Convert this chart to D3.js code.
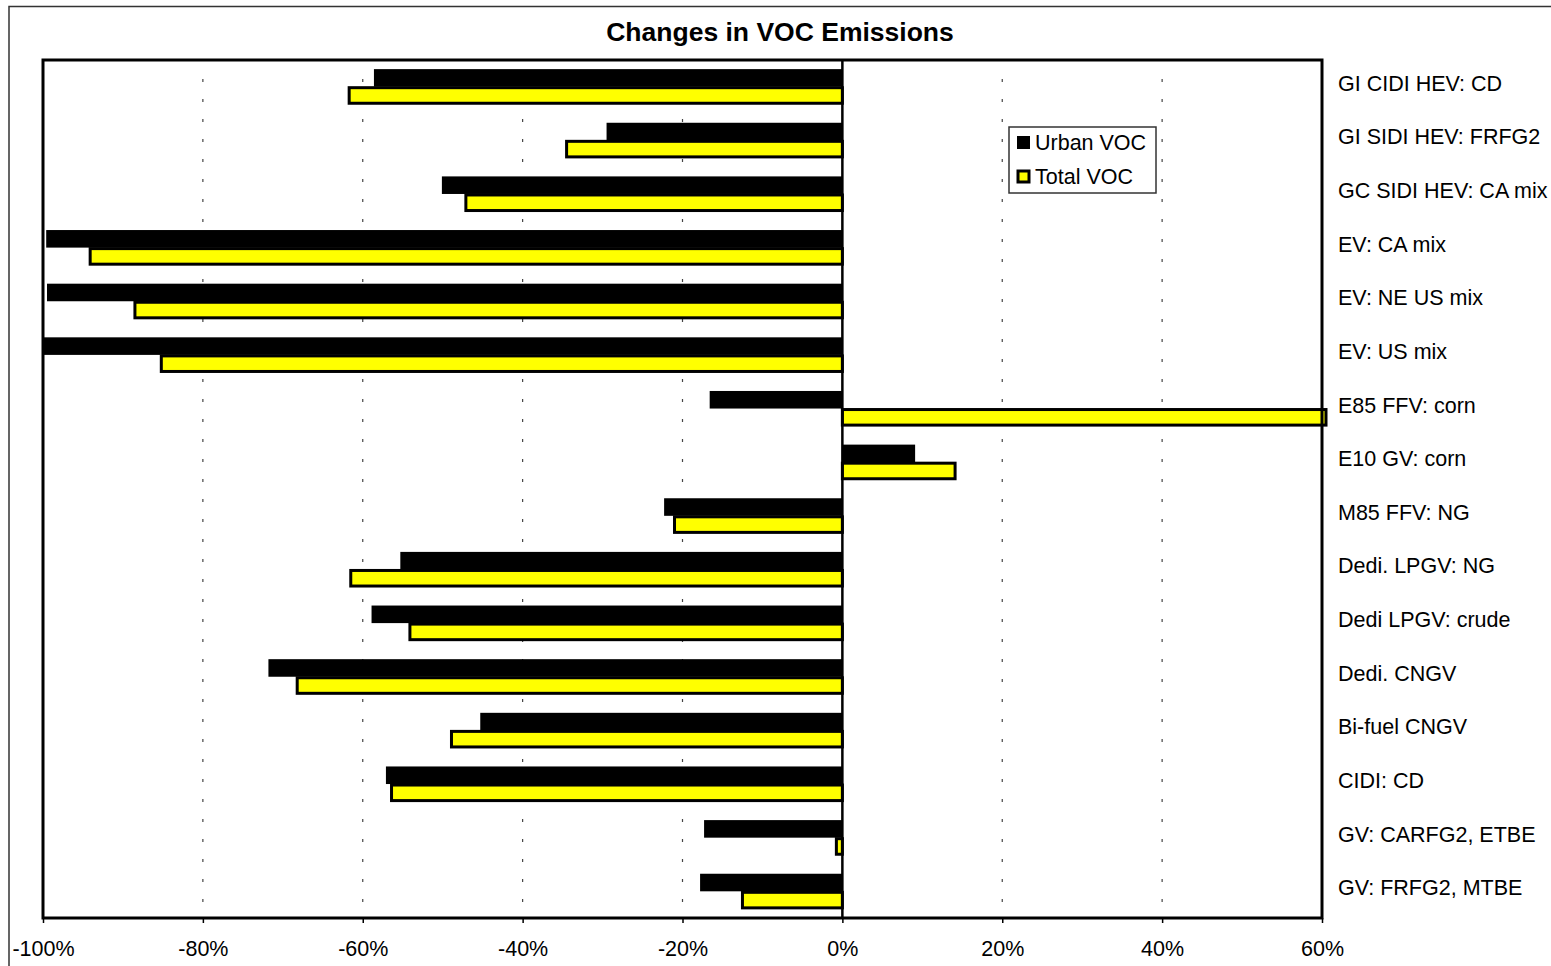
<!DOCTYPE html>
<html><head><meta charset="utf-8">
<script src="https://cdn.jsdelivr.net/npm/d3@7"></script>
<style>body{margin:0;background:#fff;} svg{display:block;font-family:"Liberation Sans",Arial,sans-serif;}</style>
</head><body>
<script>
const categories = ["GI CIDI HEV: CD","GI SIDI HEV: FRFG2","GC SIDI HEV: CA mix","EV: CA mix","EV: NE US mix","EV: US mix","E85 FFV: corn","E10 GV: corn","M85 FFV: NG","Dedi. LPGV: NG","Dedi LPGV: crude","Dedi. CNGV","Bi-fuel CNGV","CIDI: CD","GV: CARFG2, ETBE","GV: FRFG2, MTBE"];
const urbanVOC = [-58.6,-29.5,-50.1,-99.6,-99.5,-100,-16.6,9.1,-22.3,-55.3,-58.9,-71.8,-45.3,-57.1,-17.3,-17.8];
const totalVOC = [-61.7,-34.5,-47.1,-94.1,-88.5,-85.2,60.5,14.1,-21.0,-61.5,-54.1,-68.2,-48.9,-56.4,-0.75,-12.5];
const xTicks = [-100,-80,-60,-40,-20,0,20,40,60];
const seriesNames = ["Urban VOC","Total VOC"];

const W=1551,H=966;
const svg=d3.select("body").append("svg").attr("width",W).attr("height",H);
const L=43,R=1322,T=60,B=918;
const x=d3.scaleLinear().domain([-100,60]).range([L,R]);
const y=d3.scaleBand().domain(categories).range([T,B]).paddingInner(0.345).paddingOuter(0.17);

// outer frame
svg.append("rect").attr("x",9).attr("y",6.5).attr("width",1700).attr("height",1200).attr("fill","none").attr("stroke","#333").attr("stroke-width",1.5);

// title
svg.append("text").attr("x",780).attr("y",41).attr("text-anchor","middle").attr("font-weight","bold").attr("font-size",26.5).text("Changes in VOC Emissions");

// gridlines
svg.append("g").selectAll("line").data(xTicks.filter(d=>d>-100&&d<60&&d!==0)).join("line")
 .attr("x1",d=>x(d)).attr("x2",d=>x(d)).attr("y1",T+19).attr("y2",B)
 .attr("stroke","#444").attr("stroke-width",1.2).attr("stroke-dasharray","3,17");

const bh=y.bandwidth()/2;
const g=svg.append("g");
categories.forEach((c,i)=>{
  const u=urbanVOC[i], t=totalVOC[i];
  g.append("rect").attr("x",x(Math.min(0,u))).attr("y",y(c)).attr("width",Math.abs(x(u)-x(0))).attr("height",bh).attr("fill","#000");
  g.append("rect").attr("x",x(Math.min(0,t))).attr("y",y(c)+bh+1).attr("width",Math.abs(x(t)-x(0))).attr("height",bh-2)
   .attr("fill","#ffff00").attr("stroke","#000").attr("stroke-width",3);
});

// zero line
svg.append("line").attr("x1",x(0)).attr("x2",x(0)).attr("y1",T).attr("y2",B).attr("stroke","#000").attr("stroke-width",2.5);

// plot border
svg.append("rect").attr("x",L).attr("y",T).attr("width",R-L).attr("height",B-T).attr("fill","none").attr("stroke","#000").attr("stroke-width",3);

// x axis
const ax=svg.append("g").attr("transform",`translate(0,${B})`).call(d3.axisBottom(x).tickValues(xTicks).tickSize(5).tickFormat(d=>d+"%"));
ax.select(".domain").remove();
ax.selectAll("line").attr("stroke","#000").attr("stroke-width",1.5);
ax.selectAll("text").attr("font-size",21.5).attr("font-family","Liberation Sans, Arial, sans-serif").attr("fill","#000").attr("dy","1.4em");

// category labels
svg.append("g").selectAll("text").data(categories).join("text")
 .attr("x",1338).attr("y",d=>y(d)+y.bandwidth()/2+4).attr("font-size",21.5).attr("fill","#000").text(d=>d);

// legend
const lg=svg.append("g");
lg.append("rect").attr("x",1009).attr("y",127).attr("width",147).attr("height",66).attr("fill","#fff").attr("stroke","#333").attr("stroke-width",1.5);
seriesNames.forEach((s,i)=>{
  const yy=136+i*34;
  lg.append("rect").attr("x",1017+ (i?1:0)).attr("y",yy+(i?1:0)).attr("width",i?11:13).attr("height",i?11:13).attr("fill",i?"#ffff00":"#000").attr("stroke","#000").attr("stroke-width",i?3:0);
  lg.append("text").attr("x",1035).attr("y",yy+14).attr("font-size",21.5).text(s);
});
</script>
</body></html>
